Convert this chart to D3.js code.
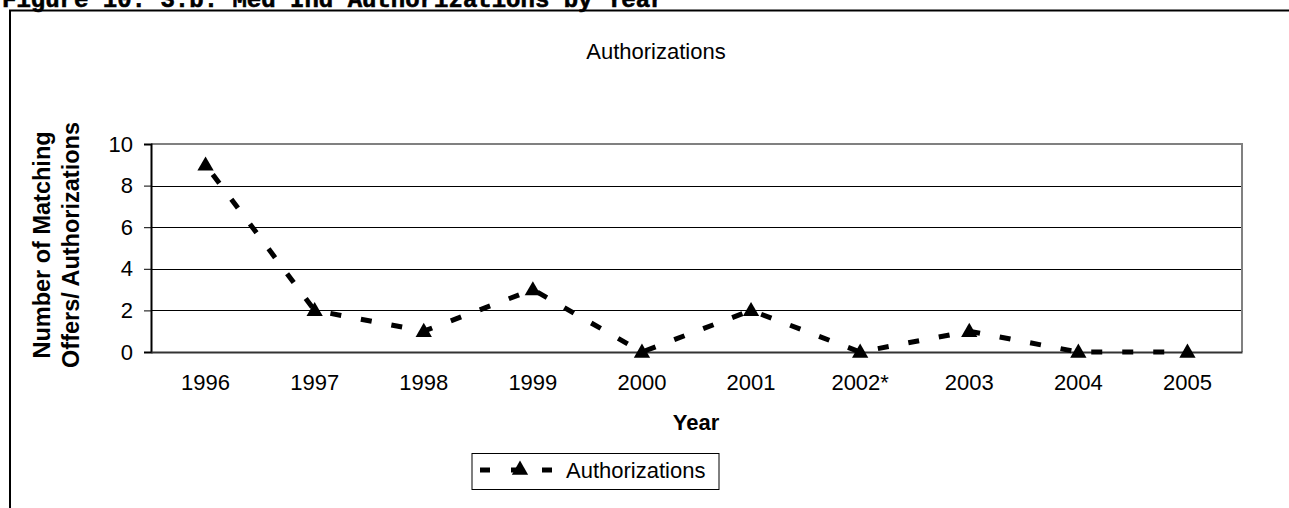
<!DOCTYPE html>
<html>
<head>
<meta charset="utf-8">
<script src="https://cdn.jsdelivr.net/npm/d3@7"></script>
<style>
  html, body { margin: 0; padding: 0; background: #fff; }
  svg { display: block; }
  text { font-family: "Liberation Sans", Arial, sans-serif; fill: #000; }
</style>
</head>
<body>
<svg id="chart" width="1289" height="508"></svg>
<script>
// Authorizations per year
const years = ["1996", "1997", "1998", "1999", "2000", "2001", "2002*", "2003", "2004", "2005"];
const authorizations = [9, 2, 1, 3, 0, 2, 0, 1, 0, 0];
const yTicks = [0, 2, 4, 6, 8, 10];

const svg = d3.select("#chart");
const W = 1289, H = 508;
const plot = { left: 151, right: 1242, top: 144, bottom: 352 };
const fs = 22;

// Figure caption, running off the page top
svg.append("text")
  .attr("x", 2).attr("y", 7)
  .style("font-family", "'Liberation Mono', 'Courier New', monospace")
  .style("font-weight", "bold")
  .style("font-size", "24px")
  .style("stroke", "#000").style("stroke-width", 0.6)
  .text("Figure 10. 3.b. Med Ind Authorizations by Year");

// Outer frame (top and left edges)
svg.append("line").attr("x1", 9).attr("x2", W).attr("y1", 10.5).attr("y2", 10.5)
  .attr("stroke", "#000").attr("stroke-width", 2);
svg.append("line").attr("x1", 10).attr("x2", 10).attr("y1", 10).attr("y2", H)
  .attr("stroke", "#000").attr("stroke-width", 2);

const x = d3.scaleBand().domain(years).range([plot.left, plot.right]);
const y = d3.scaleLinear().domain([0, 10]).range([plot.bottom, plot.top]);

// Gridlines
svg.append("g").selectAll("line").data(yTicks.filter(t => t > 0 && t < 10)).join("line")
  .attr("x1", plot.left).attr("x2", plot.right)
  .attr("y1", d => Math.round(y(d)) + 0.5).attr("y2", d => Math.round(y(d)) + 0.5)
  .attr("stroke", "#000").attr("stroke-width", 1);

// Plot area border: top/right grey
svg.append("path")
  .attr("d", `M${plot.left},${plot.top}H${plot.right}V${plot.bottom}`)
  .attr("fill", "none").attr("stroke", "#808080").attr("stroke-width", 2);

// Y axis
const yAxis = svg.append("g")
  .attr("transform", `translate(${plot.left},0)`)
  .call(d3.axisLeft(y).tickValues(yTicks).tickSize(7).tickPadding(11));
yAxis.select(".domain").attr("stroke", "#000").attr("stroke-width", 2);
yAxis.selectAll(".tick line").attr("stroke", "#000").attr("stroke-width", 1);
yAxis.selectAll(".tick text").style("font-size", fs + "px").style("font-family", "'Liberation Sans', Arial, sans-serif");

// X axis
const xAxis = svg.append("g")
  .attr("transform", `translate(0,${plot.bottom})`)
  .call(d3.axisBottom(x).tickSize(0).tickPadding(22));
xAxis.select(".domain").attr("stroke", "#333").attr("stroke-width", 2);
xAxis.selectAll(".tick text").style("font-size", fs + "px").style("font-family", "'Liberation Sans', Arial, sans-serif");

// Series line
const cx = (d, i) => x(years[i]) + x.bandwidth() / 2;
const line = d3.line().x(cx).y(d => y(d));
svg.append("path")
  .datum(authorizations)
  .attr("d", line)
  .attr("fill", "none")
  .attr("stroke", "#000")
  .attr("stroke-width", 5)
  .attr("stroke-dasharray", "11,20")
  .attr("stroke-dashoffset", -12);

// Triangle markers
const tri = d3.symbol().type(d3.symbolTriangle).size(115);
svg.append("g").selectAll("path").data(authorizations).join("path")
  .attr("d", tri)
  .attr("transform", (d, i) => `translate(${cx(d, i)},${y(d) + 1})`)
  .attr("fill", "#000");

// Chart title
svg.append("text")
  .attr("x", 656).attr("y", 59)
  .attr("text-anchor", "middle")
  .style("font-size", "22px")
  .text("Authorizations");

// Axis titles
svg.append("text")
  .attr("x", 696).attr("y", 430)
  .attr("text-anchor", "middle")
  .style("font-size", fs + "px").style("font-weight", "bold")
  .text("Year");

const yTitle = svg.append("text")
  .attr("transform", "translate(0,245) rotate(-90)")
  .attr("text-anchor", "middle")
  .style("font-size", "23.5px").style("font-weight", "bold");
yTitle.append("tspan").attr("x", 0).attr("y", 50).text("Number of Matching");
yTitle.append("tspan").attr("x", 0).attr("y", 79).text("Offers/ Authorizations");

// Legend
const lg = svg.append("g");
lg.append("rect").attr("x", 472).attr("y", 453.5).attr("width", 247).attr("height", 36)
  .attr("fill", "#fff").attr("stroke", "#000").attr("stroke-width", 1);
lg.append("line").attr("x1", 480).attr("x2", 552).attr("y1", 470).attr("y2", 470)
  .attr("stroke", "#000").attr("stroke-width", 5).attr("stroke-dasharray", "10,21");
lg.append("path").attr("d", tri).attr("transform", "translate(520,470)").attr("fill", "#000");
lg.append("text").attr("x", 566).attr("y", 478)
  .style("font-size", "22px")
  .text("Authorizations");
</script>
</body>
</html>
